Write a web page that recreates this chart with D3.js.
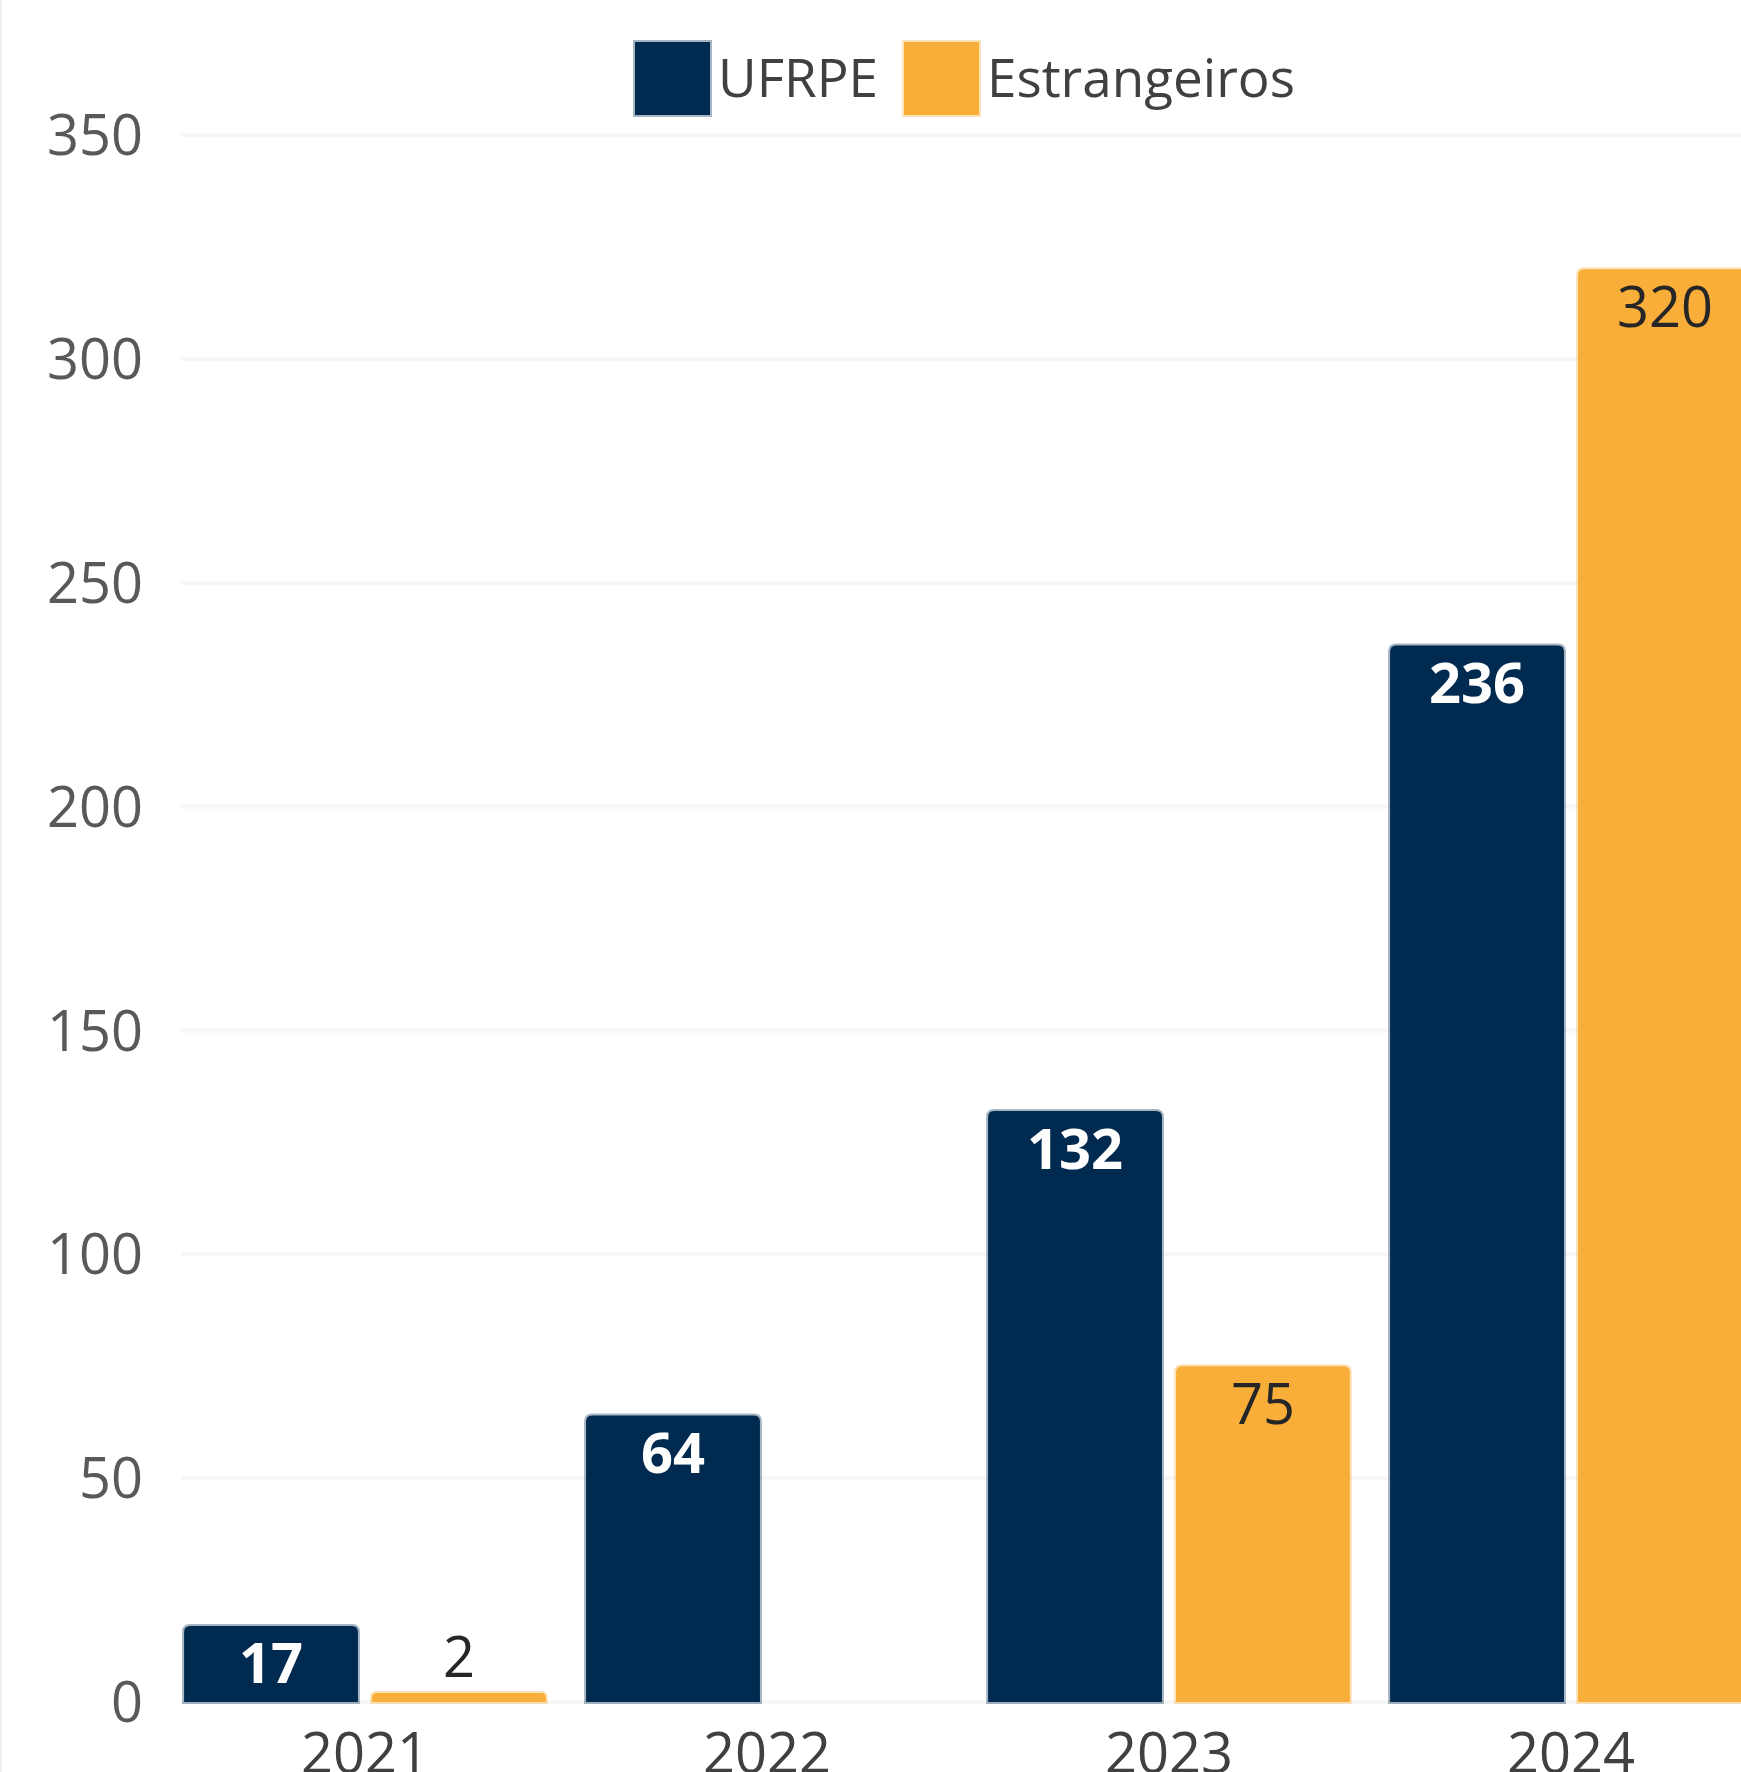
<!DOCTYPE html>
<html>
<head>
<meta charset="utf-8">
<script src="https://cdn.jsdelivr.net/npm/d3@7"></script>
<style>
  html, body { margin: 0; padding: 0; background: #fff; }
  svg { display: block; font-family: "Open Sans", sans-serif; }
</style>
</head>
<body>
<div id="chart"></div>
<script>
// data
const years = ["2021", "2022", "2023", "2024"];
const ufrpe = [17, 64, 132, 236];
const estrangeiros = [2, null, 75, 320];
const seriesNames = ["UFRPE", "Estrangeiros"];
const seriesColors = ["#002a4f", "#f9ae3a"];
const labelColors = ["#ffffff", "#262626"];
const yTicks = [0, 50, 100, 150, 200, 250, 300, 350];

const W = 1741, H = 1772;

const svg = d3.select("#chart")
.append("svg")
.attr("width", W)
.attr("height", H);

const yScale = d3.scaleLinear()
.domain([0, 350])
.range([1702, 135]);

const xScale = d3.scaleBand()
.domain(years)
.range([164, 1772])
.paddingInner(0.1)
.paddingOuter(0.05);

const xInner = d3.scaleBand()
.domain(seriesNames)
.range([0, xScale.bandwidth()])
.paddingInner(0.075);

// faint left border
svg.append("line")
    .attr("x1", 1).attr("x2", 1)
    .attr("y1", 0).attr("y2", H)
    .attr("stroke", "#f0f0f0")
    .attr("stroke-width", 2);

// gridlines
svg.selectAll(".grid")
    .data(yTicks)
    .join("line")
    .attr("class", "grid")
    .attr("x1", 181)
    .attr("x2", W)
    .attr("y1", d => yScale(d))
    .attr("y2", d => yScale(d))
    .attr("stroke", "#f6f6f6")
    .attr("stroke-width", 4);

// y axis
const yAxis = d3.axisLeft(yScale).tickValues(yTicks).tickSize(0).tickPadding(0);
const yG = svg.append("g").attr("transform", "translate(143,0)").call(yAxis);
yG.select(".domain").remove();
yG.selectAll("text")
    .attr("font-size", 56)
    .attr("font-family", "Open Sans, sans-serif")
    .attr("fill", "#595959")
    .attr("dy", "0.35em");

// x axis (cut off at the bottom edge, as in the source image)
const xAxis = d3.axisBottom(xScale).tickSize(0).tickPadding(0);
const xG = svg.append("g").attr("transform", "translate(0,1733)").call(xAxis);
xG.select(".domain").remove();
xG.selectAll("text")
    .attr("font-size", 56)
    .attr("font-family", "Open Sans, sans-serif")
    .attr("fill", "#404040")
    .attr("dy", "0.71em");

// bars
const rows = [];
years.forEach((yr, i) => {
    rows.push({year: yr, s: 0, v: ufrpe[i]});
    rows.push({year: yr, s: 1, v: estrangeiros[i]});
});
const bars = rows.filter(d => d.v !== null);

function barPath(d) {
    const x = xScale(d.year) + xInner(seriesNames[d.s]);
    const w = xInner.bandwidth();
    const y0 = yScale(0);
    const y1 = yScale(d.v);
    const r = Math.min(6, (y0 - y1) / 2);
    return `M${x},${y0}V${y1 + r}Q${x},${y1} ${x + r},${y1}H${x + w - r}Q${x + w},${y1} ${x + w},${y1 + r}V${y0}Z`;
}

svg.selectAll(".bar")
    .data(bars)
    .join("path")
    .attr("class", "bar")
    .attr("d", barPath)
    .attr("fill", d => seriesColors[d.s])
    .attr("stroke", d => seriesColors[d.s])
    .attr("stroke-opacity", 0.35)
    .attr("stroke-width", 4);

// value labels
svg.selectAll(".val")
    .data(bars)
    .join("text")
    .attr("class", "val")
    .attr("x", d => xScale(d.year) + xInner(seriesNames[d.s]) + xInner.bandwidth() / 2)
    .attr("y", d => {
        const h = yScale(0) - yScale(d.v);
        return h > 60 ? yScale(d.v) + 38 : yScale(d.v) - 36;
    })
    .attr("dy", "0.35em")
    .attr("text-anchor", "middle")
    .attr("font-size", 56)
    .attr("font-weight", d => d.s === 0 ? 700 : 400)
    .attr("fill", d => {
        const h = yScale(0) - yScale(d.v);
        return h > 60 ? labelColors[d.s] : "#262626";
    })
    .text(d => d.v);

// legend
const legendX = [635, 904];
const leg = svg.selectAll(".leg")
    .data(seriesNames)
    .join("g")
    .attr("class", "leg")
    .attr("transform", (d, i) => `translate(${legendX[i]},42)`);
leg.append("rect")
    .attr("width", 75)
    .attr("height", 73)
    .attr("fill", (d, i) => seriesColors[i])
    .attr("stroke", (d, i) => seriesColors[i])
    .attr("stroke-opacity", 0.35)
    .attr("stroke-width", 4);
leg.append("text")
    .attr("x", 83)
    .attr("y", 36)
    .attr("dy", "0.35em")
    .attr("font-size", 53)
    .attr("fill", "#404040")
    .text(d => d);
</script>
</body>
</html>
